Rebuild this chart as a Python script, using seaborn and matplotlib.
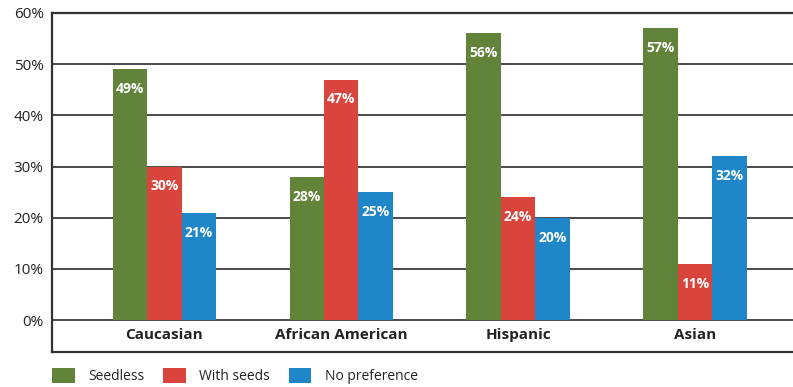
import matplotlib
matplotlib.use("Agg")
import matplotlib.pyplot as plt
import seaborn as sns
import pandas as pd
from matplotlib.patches import Patch
from matplotlib.transforms import blended_transform_factory

groups = ["Caucasian", "African American", "Hispanic", "Asian"]
preferences = ["Seedless", "With seeds", "No preference"]
seedless = [49, 28, 56, 57]
with_seeds = [30, 47, 24, 11]
no_preference = [21, 25, 20, 32]
y_ticks = [0, 10, 20, 30, 40, 50, 60]
y_tick_labels = ["0%", "10%", "20%", "30%", "40%", "50%", "60%"]

palette = {"Seedless": "#62843A", "With seeds": "#D9443C", "No preference": "#1F86C8"}

rows = []
for pref, vals in zip(preferences, [seedless, with_seeds, no_preference]):
    for g, v in zip(groups, vals):
        rows.append({"group": g, "preference": pref, "value": v})
df = pd.DataFrame(rows)

sns.set_theme(style="white")
plt.rcParams["font.family"] = ["Open Sans", "DejaVu Sans"]

fig = plt.figure(figsize=(7.93, 3.87), dpi=100)
ax = fig.add_axes([52 / 793, 1 - 352 / 387, 1 - 52 / 793 + 0.01, (352 - 13) / 387])

for y in y_ticks:
    ax.axhline(y, color="#4a4a4a", lw=1.4, zorder=0)

sns.barplot(data=df, x="group", y="value", hue="preference", order=groups,
            hue_order=preferences, palette=palette, width=0.585, saturation=1,
            edgecolor="none", linewidth=0, legend=False, ax=ax, zorder=2)

ax.set_ylim(-6.25, 60)
ax.set_xlim(-0.636, 3.6)
ax.set_yticks(y_ticks)
ax.set_yticklabels(y_tick_labels, fontsize=11, color="#222222")
ax.tick_params(axis="y", length=0, pad=6)
ax.set_xticks([])
ax.set_xlabel("")
ax.set_ylabel("")

for side in ["left", "bottom", "top"]:
    ax.spines[side].set_visible(True)
    ax.spines[side].set_color("#333333")
    ax.spines[side].set_linewidth(1.6)
ax.spines["right"].set_visible(False)

# value labels inside each bar, near the top
for container, pref in zip(ax.containers, preferences):
    for bar in container:
        h = bar.get_height()
        ax.text(bar.get_x() + bar.get_width() / 2, h - 3.9, f"{int(round(h))}%",
                ha="center", va="center", color="white", fontsize=10,
                fontweight="bold", zorder=3)

# category names below the zero line
trans = blended_transform_factory(ax.transData, ax.transData)
for i, g in enumerate(groups):
    ax.text(i, -3.0, g, ha="center", va="center", fontsize=11,
            fontweight="bold", color="#222222", transform=trans)

handles = [Patch(facecolor=palette[p], edgecolor="none", label=p) for p in preferences]
fig.legend(handles=handles, loc="lower left", bbox_to_anchor=(0.0585, -0.007),
           borderaxespad=0, borderpad=0.4,
           ncol=3, frameon=False, fontsize=10, handlelength=1.65, handleheight=1.3,
           handletextpad=0.95, columnspacing=1.35, labelcolor="#222222")

fig.savefig("out.png", dpi=100)
